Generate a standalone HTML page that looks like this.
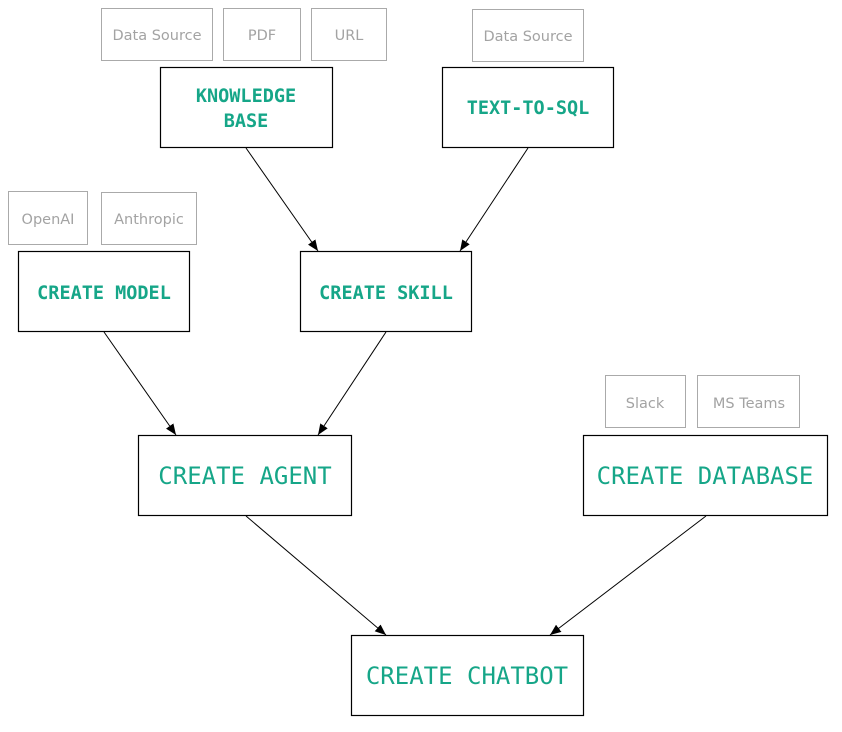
<!DOCTYPE html>
<html><head><meta charset="utf-8"><style>body{margin:0;background:#fff}</style></head>
<body>
<svg width="842" height="727" xmlns="http://www.w3.org/2000/svg">
<defs><marker id="a" markerWidth="12" markerHeight="12" refX="11" refY="5.5" orient="auto" markerUnits="userSpaceOnUse"><path d="M0,1 L11,5.5 L0,10 z" fill="#000"/></marker></defs>
<g fill="#fff" stroke="#aaa" stroke-width="1">
<rect x="101.5" y="8.5" width="111" height="52"/>
<rect x="223.5" y="8.5" width="77" height="52"/>
<rect x="311.5" y="8.5" width="75" height="52"/>
<rect x="472.5" y="9.5" width="111" height="52"/>
<rect x="8.5" y="191.5" width="79" height="53"/>
<rect x="101.5" y="192.5" width="95" height="52"/>
<rect x="605.5" y="375.5" width="80" height="52"/>
<rect x="697.5" y="375.5" width="102" height="52"/>
</g>
<g font-family="'DejaVu Sans','Liberation Sans',sans-serif" font-size="14.5" fill="#a3a3a3" text-anchor="middle">
<text x="157" y="40">Data Source</text>
<text x="262" y="40">PDF</text>
<text x="349" y="40">URL</text>
<text x="528" y="41">Data Source</text>
<text x="48" y="224">OpenAI</text>
<text x="149" y="224">Anthropic</text>
<text x="645" y="408">Slack</text>
<text x="749" y="408">MS Teams</text>
</g>
<g fill="#fff" stroke="#000" stroke-width="1.2">
<rect x="160.5" y="67.5" width="172" height="80"/>
<rect x="442.5" y="67.5" width="171" height="80"/>
<rect x="18.5" y="251.5" width="171" height="80"/>
<rect x="300.5" y="251.5" width="171" height="80"/>
<rect x="138.5" y="435.5" width="213" height="80"/>
<rect x="583.5" y="435.5" width="244" height="80"/>
<rect x="351.5" y="635.5" width="232" height="80"/>
</g>
<g font-family="'DejaVu Sans Mono',monospace" fill="#16a688" text-anchor="middle">
<g font-size="18.5" font-weight="bold">
<text x="246" y="102">KNOWLEDGE</text>
<text x="246" y="127">BASE</text>
<text x="528" y="114">TEXT-TO-SQL</text>
<text x="104" y="299">CREATE MODEL</text>
<text x="386" y="299">CREATE SKILL</text>
</g>
<g font-size="24">
<text x="245" y="484">CREATE AGENT</text>
<text x="705" y="484">CREATE DATABASE</text>
<text x="467" y="684">CREATE CHATBOT</text>
</g>
</g>
<g stroke="#000" stroke-width="1" marker-end="url(#a)">
<line x1="246" y1="148" x2="318" y2="251"/>
<line x1="528" y1="148" x2="460" y2="251"/>
<line x1="104" y1="332" x2="176" y2="435"/>
<line x1="386" y1="332" x2="318" y2="435"/>
<line x1="246" y1="516" x2="386" y2="635"/>
<line x1="706" y1="516" x2="550" y2="635"/>
</g>
</svg>
</body></html>
